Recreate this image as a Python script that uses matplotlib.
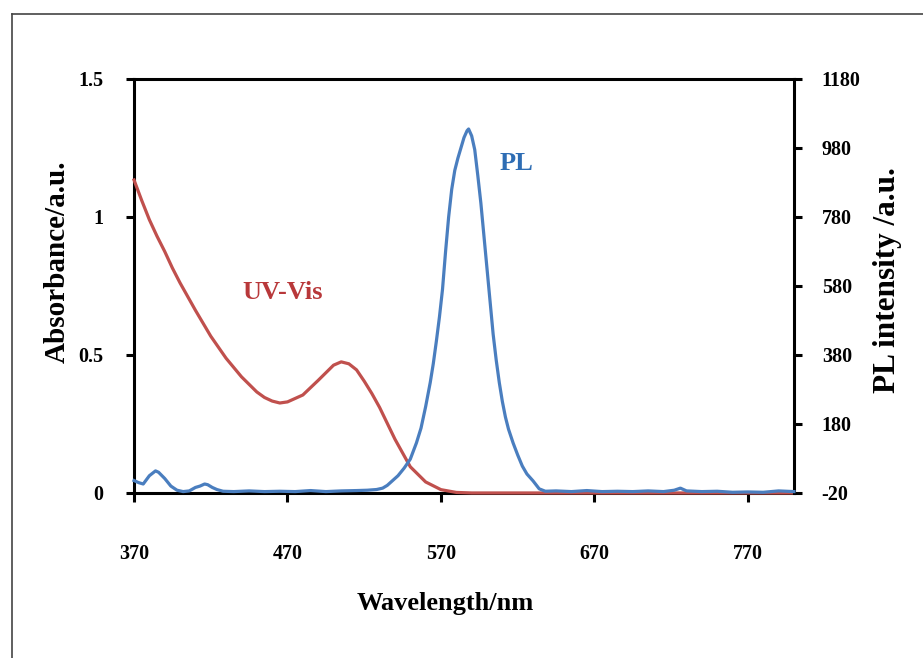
#!/usr/bin/env python3
"""Plot UV-Vis absorbance and PL emission spectra on twin y axes."""

from __future__ import annotations

import matplotlib

matplotlib.use("Agg")
import matplotlib.pyplot as plt
from matplotlib.lines import Line2D

# UV-Vis absorbance (left axis)
uv_nm = [370, 375, 380, 385, 390, 395, 400, 410, 420, 430, 440, 450, 455, 460,
         465, 470, 480, 490, 500, 505, 510, 515, 520, 525, 530, 540, 550, 560,
         570, 580, 590, 600, 700, 800]
uv_abs = [1.134, 1.06, 0.99, 0.93, 0.875, 0.815, 0.761, 0.662, 0.568, 0.488,
          0.421, 0.366, 0.346, 0.333, 0.326, 0.330, 0.355, 0.408, 0.463, 0.475,
          0.468, 0.446, 0.405, 0.36, 0.31, 0.195, 0.095, 0.040, 0.012, 0.002,
          0.0, 0.0, 0.0, 0.0]

# PL emission intensity (right axis)
pl_nm = [370, 373, 376, 380, 384, 386, 390, 394, 398, 402, 406, 410, 413, 416,
         418, 421, 424, 428, 435, 445, 455, 465, 475, 485, 495, 505, 515, 522,
         528, 532, 535, 538, 542, 546, 550, 554, 557, 560, 563, 565, 567, 569,
         571, 573, 575, 577, 579, 581, 583, 585, 587, 588, 590, 592, 594, 596,
         598, 600, 602, 604, 606, 608, 610, 612, 614, 617, 620, 623, 626, 630,
         634, 638, 645, 655, 665, 675, 685, 695, 705, 715, 722, 726, 730, 740,
         750, 760, 770, 780, 790, 795, 800]
pl_int = [16, 10, 6, 30, 44, 40, 22, 0, -12, -16, -14, -4, 0, 6,
          4, -4, -10, -15, -16, -14, -16, -15, -16, -13, -16, -14, -13, -12,
          -10, -6, 2, 14, 30, 52, 78, 125, 168, 230, 300, 355, 420, 490,
          570, 680, 780, 860, 915, 950, 980, 1010, 1030, 1035, 1015, 975, 900, 820,
          725, 630, 535, 440, 365, 300, 245, 200, 165, 125, 90, 58, 35, 15,
          -8, -15, -14, -16, -13, -16, -15, -16, -14, -16, -12, -6, -14, -16,
          -15, -18, -17, -18, -14, -15, -16]

x_ticks = [370, 470, 570, 670, 770]
abs_ticks = [0, 0.5, 1, 1.5]
abs_tick_labels = ["0", "0.5", "1", "1.5"]
pl_ticks = [-20, 180, 380, 580, 780, 980, 1180]

RED = "#C0504D"
BLUE = "#4A7EBF"
FONT = "Liberation Serif"


def style_axis(ax, sides):
    for side, spine in ax.spines.items():
        spine.set_visible(side in sides)
        spine.set_linewidth(2.2)
        spine.set_color("black")


def main() -> int:
    plt.rcParams["font.family"] = FONT
    plt.rcParams["font.weight"] = "bold"
    plt.rcParams["axes.unicode_minus"] = False

    fig = plt.figure(figsize=(9.23, 6.58), dpi=100)
    ax = fig.add_axes([0.1452, 0.2508, 0.715, 0.6292])
    ax2 = ax.twinx()

    ax.plot(uv_nm, uv_abs, color=RED, lw=2.3, zorder=3, clip_on=False)
    ax2.plot(pl_nm, pl_int, color=BLUE, lw=2.3, zorder=3, clip_on=False)

    ax.set_xlim(370, 800)
    ax.set_ylim(0, 1.5)
    ax2.set_ylim(-20, 1180)

    ax.set_xticks(x_ticks)
    ax.set_yticks(abs_ticks)
    ax.set_yticklabels(abs_tick_labels)
    ax2.set_yticks(pl_ticks)

    style_axis(ax, {"left", "bottom", "top"})
    style_axis(ax2, {"right"})

    ax.tick_params(axis="x", direction="out", length=6.5, width=2.2, pad=30,
                   labelsize=14.5, top=False)
    ax.tick_params(axis="y", direction="out", length=6, width=2.2, pad=16,
                   labelsize=14.5)
    ax2.tick_params(axis="y", direction="out", length=6, width=2.2, pad=14,
                    labelsize=14.5)

    ax.set_xlabel("Wavelength/nm", fontsize=19, fontweight="bold")
    ax.xaxis.set_label_coords(0.471, -0.266)
    ax.xaxis.label.set_va("center")
    ax.set_ylabel("Absorbance/a.u.", fontsize=21, fontweight="bold")
    ax.yaxis.set_label_coords(-0.1167, 0.558)
    ax.yaxis.label.set_va("center")
    ax2.set_ylabel("PL intensity /a.u.", fontsize=22.5, fontweight="bold")
    ax2.yaxis.set_label_coords(1.142, 0.514)
    ax2.yaxis.label.set_va("center")

    ax.text(467, 0.728, "UV-Vis", color="#B8383A", fontsize=19,
            fontweight="bold", ha="center", va="center")
    ax.text(619, 1.192, "PL", color="#2E6DB4", fontsize=19,
            fontweight="bold", ha="center", va="center")

    # thin frame around the figure
    fx = 12 / 923
    fy = 1 - 14 / 658
    fig.add_artist(Line2D([fx, fx], [0, fy], transform=fig.transFigure,
                          color="#444444", lw=1.2))
    fig.add_artist(Line2D([fx, 1], [fy, fy], transform=fig.transFigure,
                          color="#444444", lw=1.2))

    fig.savefig("out.png", dpi=100)
    plt.close(fig)
    return 0


if __name__ == "__main__":
    raise SystemExit(main())
